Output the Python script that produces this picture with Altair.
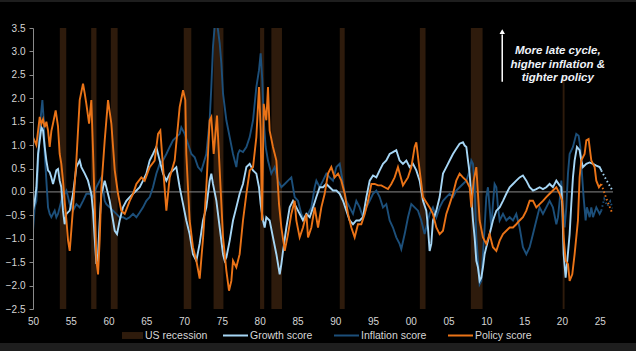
import altair as alt
import pandas as pd

# ---------------- data ----------------
rec_start = [1953.55, 1957.7, 1960.3, 1969.95, 1973.9, 1980.05, 1981.55, 1990.6, 2001.2, 2007.95, 2020.1]
rec_end = [1954.4, 1958.4, 1961.2, 1970.95, 1975.2, 1980.6, 1982.95, 1991.25, 2001.95, 2009.5, 2020.35]

policy_years = [1950.00, 1950.45, 1950.89, 1951.11, 1951.33, 1951.55, 1951.77, 1951.99, 1952.21, 1952.43, 1952.65, 1953.00, 1953.31, 1953.53, 1953.75, 1953.97, 1954.19, 1954.42, 1954.64, 1954.86, 1955.08, 1955.30, 1955.74, 1956.18, 1956.62, 1956.85, 1957.06, 1957.42, 1957.72, 1957.94, 1958.16, 1958.39, 1958.61, 1958.83, 1959.05, 1959.49, 1959.93, 1960.37, 1960.82, 1961.25, 1961.69, 1962.14, 1962.80, 1963.24, 1963.68, 1964.34, 1964.78, 1965.44, 1966.10, 1966.55, 1966.85, 1967.21, 1967.65, 1968.09, 1968.75, 1969.41, 1969.86, 1970.16, 1970.29, 1970.73, 1971.17, 1971.62, 1972.06, 1972.50, 1972.94, 1973.38, 1973.60, 1973.91, 1974.35, 1974.71, 1975.15, 1975.59, 1975.94, 1976.25, 1976.47, 1976.91, 1977.35, 1977.79, 1978.24, 1978.68, 1979.12, 1979.56, 1979.91, 1980.13, 1980.31, 1980.53, 1980.88, 1981.10, 1981.32, 1981.76, 1982.21, 1982.56, 1982.87, 1983.31, 1983.75, 1984.19, 1984.63, 1984.85, 1985.29, 1985.73, 1986.18, 1986.40, 1986.84, 1987.28, 1987.72, 1988.16, 1988.60, 1989.04, 1989.48, 1989.92, 1990.37, 1990.81, 1991.25, 1991.69, 1992.13, 1992.57, 1993.01, 1993.45, 1993.90, 1994.34, 1994.78, 1995.22, 1995.66, 1996.10, 1996.54, 1996.98, 1997.42, 1997.86, 1998.30, 1998.96, 1999.63, 2000.07, 2000.51, 2000.73, 2001.17, 2001.61, 2002.05, 2002.49, 2002.93, 2003.38, 2003.82, 2004.26, 2004.70, 2005.14, 2005.58, 2006.02, 2006.46, 2006.90, 2007.35, 2007.79, 2008.01, 2008.32, 2008.67, 2008.89, 2009.11, 2009.55, 2009.99, 2010.43, 2010.87, 2011.32, 2011.76, 2012.20, 2012.64, 2013.08, 2013.52, 2013.96, 2014.40, 2014.84, 2015.29, 2015.73, 2016.17, 2016.61, 2017.05, 2017.49, 2017.93, 2018.37, 2018.81, 2019.26, 2019.70, 2020.05, 2020.23, 2020.49, 2020.80, 2021.02, 2021.37, 2021.68, 2022.12, 2022.34, 2022.56, 2023.00, 2023.23, 2023.53, 2023.89, 2024.33, 2024.55, 2024.90, 2025.21]
policy_vals = [1.17, 1.00, 1.60, 1.45, 1.55, 1.38, 1.50, 1.31, 0.96, 1.30, 1.46, 1.74, 1.40, 0.81, 0.60, 0.24, -0.20, -0.60, -1.04, -1.26, -0.80, -0.33, 0.67, 1.96, 2.31, 2.10, 1.88, 1.46, 1.96, 0.90, -0.26, -1.47, -1.76, -1.00, 0.10, 1.10, 1.96, 1.46, 0.46, -0.04, -0.40, -0.47, -0.19, -0.04, 0.17, 0.31, 0.24, 0.53, 0.67, 1.24, 1.31, 0.53, -0.40, 0.31, 0.67, 1.81, 2.17, 1.96, 0.81, -0.61, -1.18, -1.47, -1.85, -1.00, 0.10, 1.53, 1.60, 0.81, 1.63, 0.46, -0.97, -1.68, -2.11, -1.90, -1.47, -1.61, -1.33, -0.61, -0.04, 0.46, 0.53, 1.17, 2.24, 1.31, -0.61, 1.88, 1.53, 2.24, 1.31, 0.96, 0.67, -0.26, -0.76, -1.26, -0.90, -0.47, -0.19, -0.61, -0.97, -0.76, -0.47, -0.97, -0.76, -0.33, -0.76, -0.33, -0.04, 0.39, 0.53, 0.31, 0.39, 0.24, -0.04, -0.47, -0.76, -0.97, -0.69, -0.69, -0.47, -0.19, 0.17, 0.17, 0.14, 0.14, 0.10, 0.06, 0.17, 0.31, 0.53, 0.14, 0.31, 0.53, 0.96, 1.06, 0.46, -0.11, -0.22, -0.33, -0.47, -0.76, -0.90, -0.83, -0.47, -0.26, -0.04, 0.24, 0.39, 0.31, 0.24, 0.10, -0.33, 0.24, 0.53, -0.04, -0.61, -0.97, -1.11, -0.90, -1.18, -1.26, -1.04, -0.90, -0.83, -0.76, -0.76, -0.69, -0.61, -0.54, -0.40, -0.19, -0.19, -0.33, -0.26, -0.19, -0.11, -0.04, 0.03, 0.10, -0.04, -0.19, -0.97, -1.47, -1.54, -1.90, -1.76, -1.33, -0.61, 0.31, 0.67, 0.81, 1.10, 1.13, 0.67, 0.53, 0.24, 0.10, 0.17]

growth_years = [1950.00, 1950.22, 1950.45, 1950.67, 1951.11, 1951.33, 1951.55, 1951.77, 1951.99, 1952.21, 1952.43, 1952.65, 1952.87, 1953.09, 1953.31, 1953.53, 1953.75, 1953.97, 1954.19, 1954.42, 1954.86, 1955.30, 1955.74, 1956.18, 1956.40, 1956.85, 1957.28, 1957.72, 1957.94, 1958.16, 1958.39, 1958.61, 1958.83, 1959.05, 1959.49, 1959.71, 1960.15, 1960.59, 1960.82, 1961.12, 1961.47, 1961.91, 1962.36, 1962.80, 1963.24, 1963.68, 1964.12, 1964.56, 1965.00, 1965.44, 1965.88, 1966.32, 1966.77, 1967.21, 1967.65, 1968.09, 1968.53, 1968.97, 1969.41, 1969.86, 1970.29, 1970.73, 1971.17, 1971.62, 1972.06, 1972.50, 1972.94, 1973.38, 1973.60, 1973.82, 1974.27, 1974.71, 1975.15, 1975.37, 1975.59, 1976.03, 1976.47, 1976.91, 1977.35, 1977.79, 1978.24, 1978.68, 1979.12, 1979.56, 1979.91, 1980.13, 1980.44, 1980.66, 1980.88, 1981.32, 1981.76, 1982.21, 1982.65, 1982.87, 1983.09, 1983.53, 1983.97, 1984.41, 1984.85, 1985.29, 1985.73, 1986.18, 1986.62, 1987.06, 1987.50, 1987.94, 1988.38, 1988.82, 1989.26, 1989.70, 1990.15, 1990.59, 1991.03, 1991.47, 1991.91, 1992.35, 1992.79, 1993.23, 1993.67, 1994.12, 1994.56, 1995.00, 1995.44, 1995.88, 1996.32, 1996.76, 1997.20, 1997.64, 1998.08, 1998.52, 1998.96, 1999.41, 1999.85, 2000.29, 2000.73, 2001.17, 2001.61, 2002.05, 2002.27, 2002.49, 2002.71, 2002.93, 2003.38, 2003.82, 2004.26, 2004.70, 2005.14, 2005.58, 2006.02, 2006.46, 2006.90, 2007.13, 2007.35, 2007.57, 2007.79, 2008.01, 2008.23, 2008.45, 2008.67, 2008.89, 2009.11, 2009.33, 2009.55, 2009.77, 2009.99, 2010.43, 2010.87, 2011.32, 2011.76, 2012.20, 2012.64, 2013.08, 2013.52, 2013.96, 2014.40, 2014.84, 2015.29, 2015.73, 2016.17, 2016.61, 2017.05, 2017.49, 2017.93, 2018.37, 2018.81, 2019.26, 2019.70, 2019.92, 2020.05, 2020.23, 2020.49, 2020.71, 2021.02, 2021.24, 2021.46, 2021.68, 2021.99, 2022.34, 2022.56, 2022.78, 2023.23, 2023.67, 2024.11, 2024.55, 2024.99, 2025.21]
growth_vals = [-0.40, -0.22, 0.10, 0.81, 1.38, 1.31, 0.96, 0.67, 0.46, 0.42, 0.31, 0.17, 0.31, 0.46, 0.49, 0.24, 0.10, -0.40, -0.69, -0.47, -0.40, -0.04, 0.53, 0.67, 0.53, 0.39, 0.24, -0.04, -0.40, -0.97, -1.54, -1.33, -0.61, -0.04, 0.24, 0.10, -0.19, -0.61, -0.83, -0.90, -0.61, -0.33, -0.19, -0.11, -0.04, 0.03, 0.10, 0.24, 0.39, 0.67, 0.81, 0.96, 0.67, 0.39, 0.24, 0.39, 0.46, 0.53, 0.10, -0.26, -0.61, -0.90, -1.33, -1.47, -1.10, -0.61, -0.33, 0.24, 0.39, 0.17, -0.19, -0.76, -1.33, -1.47, -1.40, -1.04, -0.61, -0.33, -0.04, 0.17, 0.53, 0.60, 0.46, 0.39, 0.10, -0.26, -0.61, -0.76, -0.54, -0.61, -0.97, -1.33, -1.76, -1.54, -1.26, -0.76, -0.33, -0.19, -0.33, -0.47, -0.61, -0.47, -0.54, -0.33, -0.11, 0.10, 0.10, 0.17, 0.10, 0.03, 0.03, -0.04, -0.19, -0.40, -0.61, -0.69, -0.61, -0.61, -0.54, -0.11, 0.24, 0.35, 0.31, 0.46, 0.60, 0.67, 0.81, 0.85, 0.89, 0.67, 0.60, 0.67, 0.53, 0.60, 0.46, 0.24, -0.19, -0.40, -0.76, -1.26, -1.11, -0.61, -0.40, -0.11, 0.39, 0.53, 0.67, 0.81, 0.92, 1.03, 1.06, 0.99, 0.96, 0.67, 0.39, -0.11, -0.61, -0.97, -1.47, -1.61, -1.90, -1.83, -1.61, -1.33, -1.18, -0.90, -0.61, -0.40, -0.33, -0.19, -0.04, 0.10, 0.17, 0.24, 0.31, 0.35, 0.24, 0.10, 0.03, 0.06, 0.10, 0.06, 0.10, 0.17, 0.10, 0.24, 0.14, 0.10, -0.33, -1.33, -1.83, -1.47, -0.90, -0.26, 0.31, 0.67, 0.96, 0.89, 0.67, 0.53, 0.60, 0.63, 0.60, 0.56, 0.53, 0.46]

inflation_years = [1950.00, 1950.22, 1950.45, 1950.67, 1950.89, 1951.11, 1951.24, 1951.42, 1951.55, 1951.77, 1951.99, 1952.21, 1952.43, 1952.65, 1952.87, 1953.09, 1953.31, 1953.53, 1953.75, 1953.97, 1954.19, 1954.42, 1954.64, 1954.86, 1955.08, 1955.30, 1955.74, 1956.18, 1956.62, 1957.06, 1957.51, 1957.94, 1958.39, 1958.83, 1959.05, 1959.27, 1959.49, 1959.71, 1960.15, 1960.59, 1961.03, 1961.47, 1961.91, 1962.36, 1962.80, 1963.24, 1963.68, 1964.12, 1964.56, 1965.00, 1965.44, 1965.88, 1966.32, 1966.77, 1967.21, 1967.65, 1968.09, 1968.53, 1968.97, 1969.41, 1969.63, 1970.08, 1970.51, 1970.96, 1971.40, 1971.84, 1972.28, 1972.94, 1973.38, 1973.60, 1973.82, 1974.04, 1974.27, 1974.49, 1974.71, 1974.93, 1975.15, 1975.59, 1976.03, 1976.47, 1976.69, 1976.91, 1977.13, 1977.35, 1977.79, 1978.24, 1978.68, 1979.12, 1979.56, 1979.91, 1980.13, 1980.35, 1980.53, 1980.79, 1981.10, 1981.54, 1981.98, 1982.43, 1982.87, 1983.31, 1983.75, 1984.19, 1984.63, 1985.07, 1985.51, 1985.95, 1986.40, 1986.84, 1987.28, 1987.50, 1987.94, 1988.38, 1988.82, 1989.26, 1989.70, 1990.15, 1990.59, 1990.81, 1991.03, 1991.47, 1991.91, 1992.35, 1992.79, 1993.23, 1993.67, 1994.12, 1994.56, 1995.00, 1995.44, 1995.88, 1996.32, 1996.76, 1997.20, 1997.64, 1998.08, 1998.52, 1998.74, 1999.19, 1999.63, 2000.07, 2000.51, 2000.95, 2001.39, 2001.83, 2002.05, 2002.49, 2002.93, 2003.38, 2003.82, 2004.26, 2004.70, 2005.14, 2005.58, 2006.02, 2006.46, 2006.90, 2007.35, 2007.79, 2008.01, 2008.23, 2008.45, 2008.67, 2008.89, 2009.11, 2009.33, 2009.55, 2009.77, 2009.99, 2010.21, 2010.43, 2010.65, 2010.87, 2011.09, 2011.32, 2011.54, 2011.76, 2012.20, 2012.64, 2013.08, 2013.52, 2013.96, 2014.40, 2014.84, 2015.29, 2015.73, 2016.17, 2016.61, 2017.05, 2017.49, 2017.93, 2018.37, 2018.81, 2019.26, 2019.48, 2019.70, 2019.92, 2020.14, 2020.36, 2020.58, 2020.80, 2021.02, 2021.46, 2021.90, 2022.21, 2022.43, 2022.65, 2022.87, 2023.14, 2023.31, 2023.67, 2023.89, 2024.11, 2024.55, 2024.99, 2025.21]
inflation_vals = [-0.83, -0.33, -0.19, 0.60, 1.38, 1.74, 1.96, 1.53, 0.81, 0.24, -0.33, -0.47, -0.54, -0.47, -0.40, -0.54, -0.47, -0.33, -0.19, -0.11, -0.04, 0.03, -0.11, -0.26, -0.33, -0.40, -0.26, -0.33, -0.19, -0.04, -0.04, -0.11, 0.10, 0.24, 0.31, 0.10, -0.19, -0.26, -0.33, -0.40, -0.47, -0.54, -0.54, -0.58, -0.54, -0.47, -0.54, -0.44, -0.33, -0.19, -0.11, 0.10, 0.39, 0.60, 0.67, 0.81, 0.96, 1.10, 1.17, 1.24, 1.38, 1.24, 1.03, 0.81, 0.74, 0.53, 0.45, 0.81, 1.53, 2.24, 3.10, 3.53, 3.70, 3.45, 3.17, 2.74, 2.10, 1.53, 1.17, 0.81, 0.67, 0.53, 0.81, 0.89, 0.85, 0.96, 1.17, 1.53, 2.24, 2.60, 2.96, 2.38, 1.53, 0.96, 0.67, 0.39, 0.53, 0.24, 0.10, 0.17, 0.24, 0.31, -0.11, -0.19, -0.47, -0.61, -0.47, -0.33, 0.10, 0.24, 0.10, 0.24, 0.39, 0.31, 0.24, 0.53, 0.60, 0.39, 0.17, -0.19, -0.33, -0.47, -0.19, -0.33, -0.54, -0.33, -0.19, -0.04, 0.03, -0.11, -0.33, -0.26, -0.61, -0.76, -0.97, -1.11, -1.22, -0.90, -0.54, -0.26, -0.33, -0.40, -0.61, -0.90, -0.76, -0.47, -0.33, -0.54, -0.33, -0.19, -0.11, -0.04, -0.11, 0.03, 0.10, 0.17, 0.24, 0.46, 0.67, 0.60, 0.10, -0.97, -1.47, -1.97, -1.90, -1.33, -0.76, -0.11, 0.10, -0.33, -0.76, -0.26, 0.17, 0.10, -0.33, -0.61, -0.47, -0.61, -0.54, -0.61, -0.47, -0.76, -1.18, -1.33, -1.18, -0.90, -0.61, -0.33, -0.47, -0.33, -0.19, -0.33, -0.69, -0.54, -0.19, 0.24, -0.33, -0.76, -0.33, 0.39, 0.81, 0.96, 1.24, 1.20, 0.96, 0.39, -0.11, -0.61, -0.33, -0.54, -0.33, -0.54, -0.33, -0.47, -0.40]

# dotted projections beyond the last observation
growth_proj_years = [2025.21, 2025.9, 2026.7]
growth_proj_vals = [0.46, 0.25, 0.03]
inflation_proj_years = [2025.21, 2025.6, 2026.0, 2026.4, 2026.7]
inflation_proj_vals = [-0.40, -0.15, -0.30, -0.20, -0.35]
policy_proj_years = [2025.21, 2025.9, 2026.7]
policy_proj_vals = [0.17, -0.15, -0.47]

series_names = ["Growth score", "Inflation score", "Policy score"]
series_colors = ["#a6d6f5", "#1c4f7a", "#ea7317"]
recession_label = ["US recession"]
recession_color = ["#2e1b0c"]

annotation_text = ["More late cycle,", "higher inflation &", "tighter policy"]
annotation_pos = [2019.45, 3.0]
arrow_x = [2012.1]
arrow_y = [2.35, 3.36]
box_x = [2013.0, 2026.7]
box_y = [2.48, 3.5]

x_domain = [1950, 2026.76]
y_domain = [-2.5, 3.5]
x_ticks = list(range(1950, 2030, 5))
y_ticks = [-2.5, -2.0, -1.5, -1.0, -0.5, 0.0, 0.5, 1.0, 1.5, 2.0, 2.5, 3.0, 3.5]

# ---------------- tables ----------------
def frame(years, vals, name):
    return pd.DataFrame({"year": years, "value": vals, "series": name})

main_df = pd.concat([
    frame(inflation_years, inflation_vals, "Inflation score"),
    frame(growth_years, growth_vals, "Growth score"),
    frame(policy_years, policy_vals, "Policy score"),
])
proj_df = pd.concat([
    frame(inflation_proj_years, inflation_proj_vals, "Inflation score"),
    frame(growth_proj_years, growth_proj_vals, "Growth score"),
    frame(policy_proj_years, policy_proj_vals, "Policy score"),
])
rec_df = pd.DataFrame({"start": rec_start, "end": rec_end, "label": recession_label[0]})

FONT = "Liberation Sans"
LABEL_COLOR = "#d6d6d6"
AXIS_COLOR = "#8a8a8a"

xscale = alt.Scale(domain=x_domain, nice=False, zero=False)
yscale = alt.Scale(domain=y_domain, nice=False, zero=False)

x_axis = alt.Axis(values=x_ticks, labelExpr="slice('0' + (datum.value % 100), -2)",
                  grid=False, domain=False, ticks=False, labelPadding=7, labelFlush=False,
                  labelOverlap=False, labelColor=LABEL_COLOR, labelFont=FONT, labelFontSize=10,
                  title=None, zindex=2)
y_axis = alt.Axis(values=y_ticks, format=".1f", grid=False, domainColor=AXIS_COLOR, tickColor=AXIS_COLOR,
                  tickSize=4, labelPadding=4, labelColor=LABEL_COLOR, labelFont=FONT, labelFontSize=10,
                  title=None, labelOverlap=False, zindex=2)

# frame background: black panel with thin grey strips top and bottom
bg = alt.Chart(pd.DataFrame({"k": [0]})).mark_rect(color="#000000").encode(
    x=alt.value(-33), x2=alt.value(603), y=alt.value(-26), y2=alt.value(315)
)

rec = alt.Chart(rec_df).mark_rect().encode(
    x=alt.X("start:Q", scale=xscale, axis=x_axis),
    x2="end:Q",
    y=alt.Y(datum=3.5, scale=yscale, axis=y_axis),
    y2=alt.Y2(datum=-2.5),
    fill=alt.Fill("label:N", scale=alt.Scale(domain=recession_label, range=recession_color),
                  legend=alt.Legend(orient="none", legendX=89, legendY=297, title=None,
                                    symbolType="M-1,-0.33H1V0.33H-1Z", symbolSize=441,
                                    symbolStrokeWidth=0, labelColor=LABEL_COLOR, labelFont=FONT,
                                    labelFontSize=10.5, labelOffset=2, padding=0, zindex=2)),
)

zero = alt.Chart(pd.DataFrame({"v": [0.0]})).mark_rule(color=AXIS_COLOR, strokeWidth=1).encode(
    y=alt.Y("v:Q", scale=yscale, axis=y_axis)
)

stroke_enc = alt.Stroke("series:N", scale=alt.Scale(domain=series_names, range=series_colors),
                        legend=alt.Legend(orient="none", legendX=189, legendY=294, title=None,
                                          direction="horizontal", symbolType="stroke", symbolSize=625,
                                          symbolStrokeWidth=2, labelColor=LABEL_COLOR, labelFont=FONT,
                                          labelFontSize=10.5, labelOffset=1, columnPadding=17, padding=0,
                                          zindex=2))

lines = alt.Chart(main_df).mark_line(strokeWidth=1.9, clip=True).encode(
    x=alt.X("year:Q", scale=xscale, axis=x_axis),
    y=alt.Y("value:Q", scale=yscale, axis=y_axis),
    stroke=stroke_enc,
    detail="series:N",
    order="year:Q",
)

proj = alt.Chart(proj_df).mark_line(strokeWidth=1.9, strokeDash=[1.5, 2.5], clip=True).encode(
    x=alt.X("year:Q", scale=xscale, axis=x_axis),
    y=alt.Y("value:Q", scale=yscale, axis=y_axis),
    stroke=stroke_enc,
    detail="series:N",
    order="year:Q",
)

box = alt.Chart(pd.DataFrame({"x1": [box_x[0]], "x2": [box_x[1]], "y1": [box_y[0]], "y2": [box_y[1]]})).mark_rect(
    color="#000000").encode(
    x=alt.X("x1:Q", scale=xscale, axis=x_axis), x2="x2:Q",
    y=alt.Y("y1:Q", scale=yscale, axis=y_axis), y2="y2:Q",
)

arrow = alt.Chart(pd.DataFrame({"x": arrow_x, "y1": [arrow_y[0]], "y2": [arrow_y[1]]})).mark_rule(
    color="#ffffff", strokeWidth=1.5).encode(
    x=alt.X("x:Q", scale=xscale, axis=x_axis),
    y=alt.Y("y1:Q", scale=yscale, axis=y_axis), y2="y2:Q",
)
head = alt.Chart(pd.DataFrame({"x": arrow_x, "y": [arrow_y[1] + 0.06]})).mark_point(
    shape="triangle-up", filled=True, color="#ffffff", size=30, opacity=1).encode(
    x=alt.X("x:Q", scale=xscale, axis=x_axis),
    y=alt.Y("y:Q", scale=yscale, axis=y_axis),
)

text = alt.Chart(pd.DataFrame({"x": [annotation_pos[0]], "y": [annotation_pos[1]],
                               "t": ["\n".join(annotation_text)]})).mark_text(
    lineBreak="\n", lineHeight=13.5, font=FONT, fontSize=11.5, fontStyle="italic", fontWeight="bold",
    color="#eef2f8", align="center", baseline="middle").encode(
    x=alt.X("x:Q", scale=xscale, axis=x_axis),
    y=alt.Y("y:Q", scale=yscale, axis=y_axis),
    text="t:N",
)

chart = alt.layer(bg, rec, zero, lines, proj, box, arrow, head, text).properties(
    width=580, height=281,
    padding={"left": 33, "top": 28, "right": 23, "bottom": 42},
    autosize=alt.AutoSizeParams(type="none"),
    background="#1e1e1e",
).configure_view(strokeWidth=0)

chart.save("out.html", embed_options={"renderer": "svg", "actions": False})
